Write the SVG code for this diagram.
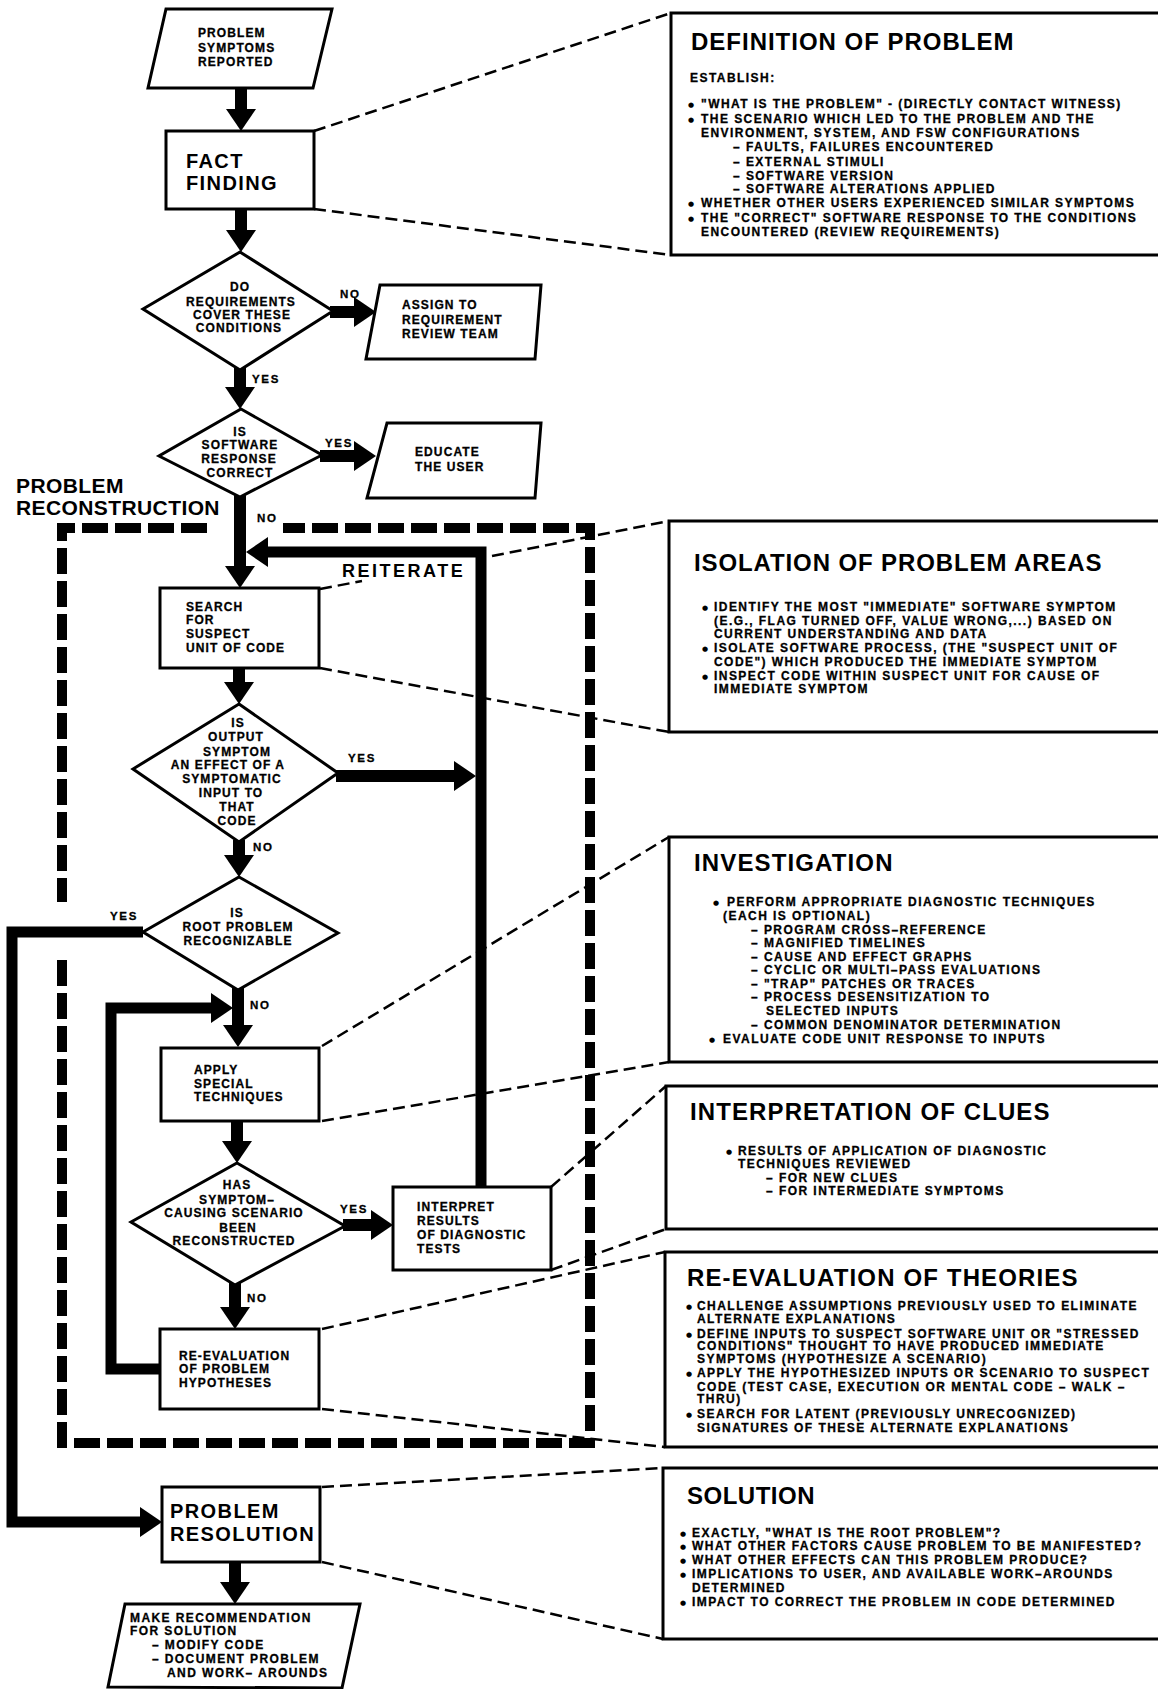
<svg xmlns="http://www.w3.org/2000/svg" width="1158" height="1689" viewBox="0 0 1158 1689">
<style>
  .bg{fill:#fff}
  .box{fill:#fff;stroke:#000;stroke-width:3;stroke-linejoin:miter}
  .panel{fill:#fff;stroke:#000;stroke-width:3}
  .flow{stroke:#000;stroke-width:12;fill:none}
  .loop{stroke:#000;stroke-width:11;fill:none;stroke-linejoin:miter}
  .call{stroke:#000;stroke-width:2.5;stroke-dasharray:12 6;fill:none}
  .zone{stroke:#000;stroke-width:10;stroke-dasharray:26 7;fill:none}
  text{font-family:"Liberation Sans",Arial,Helvetica,sans-serif;font-weight:bold;fill:#000}
  .n{font-size:12px;letter-spacing:1.1px;stroke:#000;stroke-width:0.3px}
  .c{text-anchor:middle}
  .big{font-size:20px;letter-spacing:1.4px}
  .lbl{font-size:11.5px;letter-spacing:1.7px;stroke:#000;stroke-width:0.3px}
  .pt{font-size:24px;letter-spacing:0.5px}
  .pb{font-size:12px;letter-spacing:1.45px;stroke:#000;stroke-width:0.3px}
  .bu{font-size:7px;font-family:"DejaVu Sans",sans-serif}
</style>
<defs>
  <marker id="ah" markerUnits="userSpaceOnUse" markerWidth="22" markerHeight="30" refX="1" refY="15" orient="auto">
    <path d="M0,0 L22,15 L0,30 z" fill="#000"/>
  </marker>
</defs>
<rect class="bg" x="0" y="0" width="1158" height="1689"/>

<!-- callout dashed lines -->
<g id="callouts">
  <path class="call" d="M314,131 L671,13"/>
  <path class="call" d="M314,209 L671,255"/>
  <path class="call" d="M320,589 L362,581"/>
  <path class="call" d="M492,556 L669,521"/>
  <path class="call" d="M320,668 L669,732"/>
  <path class="call" d="M322,1046 L669,837"/>
  <path class="call" d="M322,1121 L669,1062"/>
  <path class="call" d="M551,1187 L666,1086"/>
  <path class="call" d="M551,1270 L666,1229"/>
  <path class="call" d="M322,1329 L665,1252"/>
  <path class="call" d="M322,1409 L665,1447"/>
  <path class="call" d="M322,1487 L663,1468"/>
  <path class="call" d="M322,1562 L663,1639"/>
</g>

<!-- problem reconstruction zone -->
<g id="zone">
  <path class="zone" d="M207,528 H62 V902"/>
  <path class="zone" d="M62,960 V1443 H590 V528 H283"/>
  <text x="16" y="493" style="font-size:21px;letter-spacing:0.4px">PROBLEM</text>
  <text x="16" y="515" style="font-size:21px;letter-spacing:0.4px">RECONSTRUCTION</text>
</g>

<!-- connectors -->
<g id="connectors">
  <line class="flow" x1="241" y1="88" x2="241" y2="110" marker-end="url(#ah)"/>
  <line class="flow" x1="241" y1="209" x2="241" y2="231" marker-end="url(#ah)"/>
  <line class="flow" x1="330" y1="312" x2="355" y2="312" marker-end="url(#ah)"/>
  <line class="flow" x1="240" y1="368" x2="240" y2="388" marker-end="url(#ah)"/>
  <line class="flow" x1="320" y1="456" x2="355" y2="456" marker-end="url(#ah)"/>
  <line class="flow" x1="240" y1="495" x2="240" y2="567" marker-end="url(#ah)"/>
  <line class="flow" x1="239" y1="668" x2="239" y2="683" marker-end="url(#ah)"/>
  <line class="flow" x1="336" y1="776" x2="455" y2="776" marker-end="url(#ah)"/>
  <line class="flow" x1="239" y1="840" x2="239" y2="856" marker-end="url(#ah)"/>
  <line class="flow" x1="238" y1="988" x2="238" y2="1026" marker-end="url(#ah)"/>
  <line class="flow" x1="237" y1="1121" x2="237" y2="1142" marker-end="url(#ah)"/>
  <line class="flow" x1="343" y1="1225" x2="372" y2="1225" marker-end="url(#ah)"/>
  <line class="flow" x1="235" y1="1283" x2="235" y2="1308" marker-end="url(#ah)"/>
  <line class="flow" x1="235" y1="1562" x2="235" y2="1583" marker-end="url(#ah)"/>
  <path class="loop" d="M481,1187 V552 H267" marker-end="url(#ah)"/>
  <path class="loop" d="M143,932 H12 V1522 H141" marker-end="url(#ah)"/>
  <path class="loop" d="M160,1369 H111 V1008 H212" marker-end="url(#ah)"/>
  <text class="lbl" x="340" y="298">NO</text>
  <text class="lbl" x="252" y="383">YES</text>
  <text class="lbl" x="325" y="447">YES</text>
  <text class="lbl" x="257" y="522">NO</text>
  <text class="lbl" x="348" y="762">YES</text>
  <text class="lbl" x="253" y="851">NO</text>
  <text class="lbl" x="110" y="920">YES</text>
  <text class="lbl" x="250" y="1009">NO</text>
  <text class="lbl" x="340" y="1213">YES</text>
  <text class="lbl" x="247" y="1302">NO</text>
  <text x="342" y="577" style="font-size:18px;letter-spacing:2.5px">REITERATE</text>
</g>

<!-- flowchart nodes -->
<g id="n-reported">
  <polygon class="box" points="166,9 332,9 313,88 148,88"/>
  <text class="n" x="198" y="37">PROBLEM</text>
  <text class="n" x="198" y="52">SYMPTOMS</text>
  <text class="n" x="198" y="66">REPORTED</text>
</g>
<g id="n-fact">
  <rect class="box" x="166" y="131" width="148" height="78"/>
  <text class="big" x="186" y="168">FACT</text>
  <text class="big" x="186" y="190">FINDING</text>
</g>
<g id="n-req">
  <polygon class="box" points="240,252 333,311 240,370 143,309"/>
  <text class="n c" x="240" y="291">DO</text>
  <text class="n c" x="241" y="306">REQUIREMENTS</text>
  <text class="n c" x="242" y="319">COVER  THESE</text>
  <text class="n c" x="239" y="332">CONDITIONS</text>
</g>
<g id="n-assign">
  <polygon class="box" points="380,285 541,285 535,359 366,359"/>
  <text class="n" x="402" y="309">ASSIGN TO</text>
  <text class="n" x="402" y="324">REQUIREMENT</text>
  <text class="n" x="402" y="338">REVIEW TEAM</text>
</g>
<g id="n-correct">
  <polygon class="box" points="241,409 322,455 240,497 159,456"/>
  <text class="n c" x="240" y="436">IS</text>
  <text class="n c" x="240" y="449">SOFTWARE</text>
  <text class="n c" x="239" y="463">RESPONSE</text>
  <text class="n c" x="240" y="477">CORRECT</text>
</g>
<g id="n-educate">
  <polygon class="box" points="387,423 541,423 535,498 367,498"/>
  <text class="n" x="415" y="456">EDUCATE</text>
  <text class="n" x="415" y="471">THE USER</text>
</g>
<g id="n-search">
  <rect class="box" x="160" y="588" width="159" height="80"/>
  <text class="n" x="186" y="611">SEARCH</text>
  <text class="n" x="186" y="624">FOR</text>
  <text class="n" x="186" y="638">SUSPECT</text>
  <text class="n" x="186" y="652">UNIT OF CODE</text>
</g>
<g id="n-output">
  <polygon class="box" points="239,704 338,773 239,842 133,769"/>
  <text class="n c" x="238" y="727">IS</text>
  <text class="n c" x="236" y="741">OUTPUT</text>
  <text class="n c" x="237" y="756">SYMPTOM</text>
  <text class="n c" x="228" y="769">AN EFFECT OF A</text>
  <text class="n c" x="232" y="783">SYMPTOMATIC</text>
  <text class="n c" x="231" y="797">INPUT TO</text>
  <text class="n c" x="237" y="811">THAT</text>
  <text class="n c" x="237" y="825">CODE</text>
</g>
<g id="n-root">
  <polygon class="box" points="239,877 338,933 238,990 143,932"/>
  <text class="n c" x="237" y="917">IS</text>
  <text class="n c" x="238" y="931">ROOT PROBLEM</text>
  <text class="n c" x="238" y="945">RECOGNIZABLE</text>
</g>
<g id="n-apply">
  <rect class="box" x="161" y="1048" width="158" height="73"/>
  <text class="n" x="194" y="1074">APPLY</text>
  <text class="n" x="194" y="1088">SPECIAL</text>
  <text class="n" x="194" y="1101">TECHNIQUES</text>
</g>
<g id="n-scenario">
  <polygon class="box" points="237,1163 345,1226 235,1285 131,1222"/>
  <text class="n c" x="237" y="1189">HAS</text>
  <text class="n c" x="237" y="1204">SYMPTOM–</text>
  <text class="n c" x="234" y="1217">CAUSING SCENARIO</text>
  <text class="n c" x="238" y="1232">BEEN</text>
  <text class="n c" x="234" y="1245">RECONSTRUCTED</text>
</g>
<g id="n-interpret">
  <rect class="box" x="393" y="1187" width="158" height="83"/>
  <text class="n" x="417" y="1211">INTERPRET</text>
  <text class="n" x="417" y="1225">RESULTS</text>
  <text class="n" x="417" y="1239">OF DIAGNOSTIC</text>
  <text class="n" x="417" y="1253">TESTS</text>
</g>
<g id="n-reeval">
  <rect class="box" x="160" y="1329" width="159" height="80"/>
  <text class="n" x="179" y="1360">RE-EVALUATION</text>
  <text class="n" x="179" y="1373">OF PROBLEM</text>
  <text class="n" x="179" y="1387">HYPOTHESES</text>
</g>
<g id="n-resolution">
  <rect class="box" x="162" y="1487" width="158" height="75"/>
  <text class="big" x="170" y="1518">PROBLEM</text>
  <text class="big" x="170" y="1541">RESOLUTION</text>
</g>
<g id="n-recommend">
  <polygon class="box" points="125,1604 360,1604 342,1688 108,1687"/>
  <text class="n" x="130" y="1622" style="letter-spacing:1.4px">MAKE RECOMMENDATION</text>
  <text class="n" x="130" y="1635" style="letter-spacing:1.4px">FOR SOLUTION</text>
  <text class="n" x="152" y="1649" style="letter-spacing:1.4px">– MODIFY CODE</text>
  <text class="n" x="152" y="1663" style="letter-spacing:1.4px">– DOCUMENT PROBLEM</text>
  <text class="n" x="167" y="1677" style="letter-spacing:1.4px">AND WORK– AROUNDS</text>
</g>

<!-- description panels -->
<g id="p-definition">
  <rect class="panel" x="671" y="13" width="520" height="242"/>
  <text class="pt" x="691" y="50" textLength="323">DEFINITION OF PROBLEM</text>
  <text class="pb" x="690" y="82">ESTABLISH:</text>
  <text class="bu" x="688" y="107">●</text>
  <text class="pb" x="701" y="108">"WHAT IS THE PROBLEM" - (DIRECTLY CONTACT WITNESS)</text>
  <text class="bu" x="688" y="122">●</text>
  <text class="pb" x="701" y="123">THE SCENARIO WHICH LED TO THE PROBLEM AND THE</text>
  <text class="pb" x="701" y="137">ENVIRONMENT, SYSTEM, AND FSW CONFIGURATIONS</text>
  <text class="pb" x="733" y="151">– FAULTS, FAILURES ENCOUNTERED</text>
  <text class="pb" x="733" y="166">– EXTERNAL STIMULI</text>
  <text class="pb" x="733" y="180">– SOFTWARE VERSION</text>
  <text class="pb" x="733" y="193">– SOFTWARE ALTERATIONS APPLIED</text>
  <text class="bu" x="688" y="206">●</text>
  <text class="pb" x="701" y="207">WHETHER OTHER USERS EXPERIENCED SIMILAR SYMPTOMS</text>
  <text class="bu" x="688" y="221">●</text>
  <text class="pb" x="701" y="222">THE "CORRECT" SOFTWARE RESPONSE TO THE CONDITIONS</text>
  <text class="pb" x="701" y="236">ENCOUNTERED (REVIEW REQUIREMENTS)</text>
</g>
<g id="p-isolation">
  <rect class="panel" x="669" y="521" width="520" height="211"/>
  <text class="pt" x="694" y="571" textLength="408">ISOLATION OF PROBLEM AREAS</text>
  <text class="bu" x="702" y="610">●</text>
  <text class="pb" x="714" y="611">IDENTIFY THE MOST "IMMEDIATE" SOFTWARE SYMPTOM</text>
  <text class="pb" x="714" y="625">(E.G., FLAG TURNED OFF, VALUE WRONG,...) BASED ON</text>
  <text class="pb" x="714" y="638">CURRENT UNDERSTANDING AND DATA</text>
  <text class="bu" x="702" y="651">●</text>
  <text class="pb" x="714" y="652">ISOLATE SOFTWARE PROCESS, (THE "SUSPECT UNIT OF</text>
  <text class="pb" x="714" y="666">CODE") WHICH PRODUCED THE IMMEDIATE SYMPTOM</text>
  <text class="bu" x="702" y="679">●</text>
  <text class="pb" x="714" y="680">INSPECT CODE WITHIN SUSPECT UNIT FOR CAUSE OF</text>
  <text class="pb" x="714" y="693">IMMEDIATE SYMPTOM</text>
</g>
<g id="p-investigation">
  <rect class="panel" x="669" y="837" width="520" height="225"/>
  <text class="pt" x="694" y="871" textLength="199">INVESTIGATION</text>
  <text class="bu" x="713" y="905">●</text>
  <text class="pb" x="727" y="906">PERFORM APPROPRIATE DIAGNOSTIC TECHNIQUES</text>
  <text class="pb" x="723" y="920">(EACH IS OPTIONAL)</text>
  <text class="pb" x="751" y="934">– PROGRAM CROSS–REFERENCE</text>
  <text class="pb" x="751" y="947">– MAGNIFIED TIMELINES</text>
  <text class="pb" x="751" y="961">– CAUSE AND EFFECT GRAPHS</text>
  <text class="pb" x="751" y="974">– CYCLIC OR MULTI–PASS EVALUATIONS</text>
  <text class="pb" x="751" y="988">– "TRAP" PATCHES OR TRACES</text>
  <text class="pb" x="751" y="1001">– PROCESS DESENSITIZATION TO</text>
  <text class="pb" x="766" y="1015">SELECTED INPUTS</text>
  <text class="pb" x="751" y="1029">– COMMON DENOMINATOR DETERMINATION</text>
  <text class="bu" x="709" y="1042">●</text>
  <text class="pb" x="723" y="1043">EVALUATE CODE UNIT RESPONSE TO INPUTS</text>
</g>
<g id="p-interpretation">
  <rect class="panel" x="666" y="1086" width="520" height="143"/>
  <text class="pt" x="690" y="1120" textLength="360">INTERPRETATION OF CLUES</text>
  <text class="bu" x="726" y="1154">●</text>
  <text class="pb" x="738" y="1155">RESULTS OF APPLICATION OF DIAGNOSTIC</text>
  <text class="pb" x="738" y="1168">TECHNIQUES REVIEWED</text>
  <text class="pb" x="766" y="1182">– FOR NEW CLUES</text>
  <text class="pb" x="766" y="1195">– FOR INTERMEDIATE SYMPTOMS</text>
</g>
<g id="p-reevaluation">
  <rect class="panel" x="665" y="1252" width="520" height="195"/>
  <text class="pt" x="687" y="1286" textLength="391">RE-EVALUATION OF THEORIES</text>
  <text class="bu" x="686" y="1309">●</text>
  <text class="pb" x="697" y="1310">CHALLENGE ASSUMPTIONS PREVIOUSLY USED TO ELIMINATE</text>
  <text class="pb" x="697" y="1323">ALTERNATE EXPLANATIONS</text>
  <text class="bu" x="686" y="1337">●</text>
  <text class="pb" x="697" y="1338">DEFINE INPUTS TO SUSPECT SOFTWARE UNIT OR "STRESSED</text>
  <text class="pb" x="697" y="1350">CONDITIONS" THOUGHT TO HAVE PRODUCED IMMEDIATE</text>
  <text class="pb" x="697" y="1363">SYMPTOMS (HYPOTHESIZE A SCENARIO)</text>
  <text class="bu" x="686" y="1376">●</text>
  <text class="pb" x="697" y="1377">APPLY THE HYPOTHESIZED INPUTS OR SCENARIO TO SUSPECT</text>
  <text class="pb" x="697" y="1391">CODE (TEST CASE, EXECUTION OR MENTAL  CODE – WALK –</text>
  <text class="pb" x="697" y="1403">THRU)</text>
  <text class="bu" x="686" y="1417">●</text>
  <text class="pb" x="697" y="1418">SEARCH FOR LATENT (PREVIOUSLY UNRECOGNIZED)</text>
  <text class="pb" x="697" y="1432">SIGNATURES OF THESE ALTERNATE EXPLANATIONS</text>
</g>
<g id="p-solution">
  <rect class="panel" x="663" y="1468" width="520" height="171"/>
  <text class="pt" x="687" y="1504" textLength="128">SOLUTION</text>
  <text class="bu" x="680" y="1536">●</text>
  <text class="pb" x="692" y="1537">EXACTLY, "WHAT IS THE ROOT PROBLEM"?</text>
  <text class="bu" x="680" y="1549">●</text>
  <text class="pb" x="692" y="1550">WHAT OTHER FACTORS CAUSE PROBLEM TO BE MANIFESTED?</text>
  <text class="bu" x="680" y="1563">●</text>
  <text class="pb" x="692" y="1564">WHAT OTHER EFFECTS CAN THIS PROBLEM PRODUCE?</text>
  <text class="bu" x="680" y="1577">●</text>
  <text class="pb" x="692" y="1578">IMPLICATIONS TO USER, AND AVAILABLE WORK–AROUNDS</text>
  <text class="pb" x="692" y="1592">DETERMINED</text>
  <text class="bu" x="680" y="1605">●</text>
  <text class="pb" x="692" y="1606">IMPACT TO CORRECT THE PROBLEM IN CODE DETERMINED</text>
</g>
</svg>
